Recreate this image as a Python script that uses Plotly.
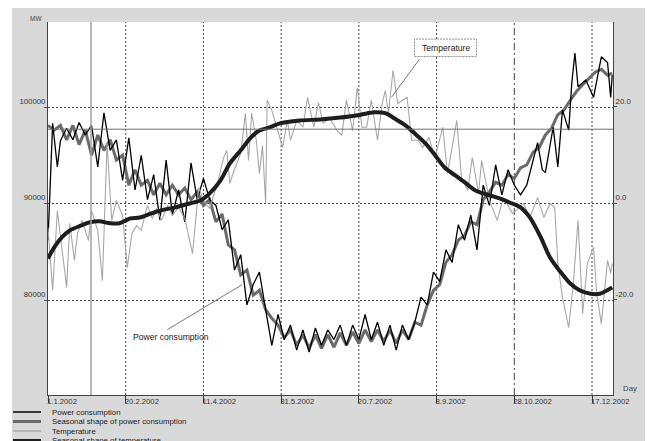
import pandas as pd
import plotly.graph_objects as go

START = pd.Timestamp("2002-01-01")

# ---- data ----
power_days = [0, 3, 6, 8, 12, 16, 20, 24, 28, 32, 36, 40, 44, 48, 52, 56, 60, 64, 68, 72,
              76, 80, 84, 88, 92, 96, 100, 104, 108, 112, 116, 120, 124, 128, 132, 136, 140,
              144, 148, 152, 156, 160, 164, 168, 172, 176, 180, 184, 188, 192, 196, 200, 204,
              208, 212, 216, 220, 224, 228, 232, 236, 240, 244, 248, 252, 256, 260, 264, 268,
              272, 276, 280, 284, 288, 292, 296, 300, 304, 308, 315, 318, 320, 325, 328, 331,
              335, 337, 339, 341, 346, 351, 356, 360, 362, 363]
power_mw = [86200, 98300, 93800, 96500, 97800, 96600, 98400, 97100, 98100, 93800, 99400, 95500,
            96600, 92400, 96800, 91400, 95000, 90400, 93000, 88300, 94500, 88800, 91400, 88100,
            94200, 90400, 92600, 90400, 89800, 87300, 88300, 83100, 84700, 79500, 81600, 82900,
            79000, 75300, 78500, 75900, 77400, 74800, 76900, 74600, 77100, 75300, 76900, 75900,
            77400, 75300, 77400, 75900, 78500, 75900, 77700, 75300, 77400, 74800, 77400, 75900,
            77700, 80300, 79500, 82900, 81900, 85200, 83900, 87800, 86200, 88800, 85200, 91900,
            89800, 94000, 90900, 93500, 91900, 90900, 91900, 96300, 93500, 93200, 97900, 93800,
            99700, 97600, 102500, 105600, 102100, 102800, 101000, 105200, 104600, 101000, 103300]

season_power_days = list(range(0, 361, 4)) + [363]
season_power_mw = [98100, 97600, 98100, 96600, 98100, 96100, 97600, 95000, 97100, 95500, 96600,
                   94500, 95000, 91900, 93500, 91900, 92400, 90900, 92100, 90900, 91900, 90900,
                   91600, 90400, 91200, 89800, 90400, 88100, 88900, 85700, 85200, 82600, 83100,
                   80500, 81000, 79000, 78100, 77400, 76100, 76900, 75300, 76400, 75000, 76400,
                   75000, 76400, 75100, 76600, 75300, 76700, 75500, 76900, 75700, 76900, 75700,
                   76900, 75500, 76900, 75900, 77700, 77400, 79500, 81000, 81600, 83900, 84700,
                   86200, 86700, 88100, 87800, 90400, 91200, 92200, 91900, 93000, 92600, 93700,
                   94000, 95300, 95800, 97100, 97800, 99200, 99700, 100700, 101600, 102300,
                   103000, 103600, 103900, 103300, 103500]

temp_days = [0, 3, 6, 9, 12, 14, 17, 19, 22, 26, 28, 32, 35, 38, 41, 44, 48, 51, 54, 57, 60,
             64, 67, 70, 73, 77, 80, 84, 88, 93, 97, 100, 104, 109, 113, 115, 117, 119, 124,
             127, 129, 131, 134, 136, 138, 140, 141, 144, 147, 151, 154, 156, 160, 164, 167,
             171, 174, 177, 181, 186, 189, 192, 196, 199, 202, 205, 208, 212, 215, 217, 219,
             222, 225, 231, 234, 238, 241, 245, 249, 254, 257, 263, 266, 270, 273, 277, 279,
             284, 289, 293, 299, 306, 310, 315, 319, 323, 326, 328, 331, 335, 338, 341, 344,
             347, 351, 353, 356, 360, 362, 363]
temp_c = [-5.0, -18.0, -1.5, -9.1, -17.4, -4.1, -11.8, -6.2, -3.5, -7.7, -1.5, -5.6, -16.0,
          12.4, -3.5, 0.6, -2.5, -13.3, -6.2, -4.6, -5.6, -0.4, -3.1, -1.0, -3.5, -0.4, -2.5,
          -0.8, -3.1, -10.4, 3.3, 0.6, -1.0, 4.1, 9.5, 11.0, 4.1, 6.2, 10.4, 18.7, 8.9, 18.7,
          13.1, 6.2, 12.0, 0.0, 21.4, 19.3, 15.8, 11.6, 17.2, 13.1, 17.2, 15.8, 22.0, 15.8,
          20.9, 16.6, 17.8, 15.1, 14.1, 21.4, 15.1, 24.0, 15.8, 15.8, 21.4, 13.1, 20.7, 23.4,
          18.7, 27.6, 20.7, 22.0, 13.1, 13.1, 11.6, 13.7, 9.5, 15.8, 6.2, 17.2, 5.4, 2.7, 9.5,
          2.1, 8.9, 0.6, -3.5, 1.2, -2.1, 0.0, -2.9, 1.2, -2.9, 0.0, -0.8, -12.4, -19.5, -25.7,
          -16.6, -3.5, -22.8, -12.4, -9.1, -18.7, -24.9, -11.8, -14.5, -12.4]

season_temp_days = [0, 4, 9, 14, 21, 27, 33, 40, 46, 53, 59, 66, 72, 82, 91, 98, 104, 111, 117,
                    124, 130, 136, 143, 149, 162, 175, 188, 201, 210, 217, 223, 230, 236, 243,
                    249, 255, 262, 268, 275, 284, 291, 297, 304, 310, 317, 323, 329, 336, 342,
                    349, 355, 363]
season_temp_c = [-11.4, -9.1, -7.0, -5.6, -4.6, -3.9, -3.7, -4.1, -4.1, -3.1, -2.9, -2.1, -1.5,
                 -0.8, 0.0, 0.6, 2.1, 4.8, 8.3, 11.0, 13.5, 15.1, 15.8, 16.6, 17.2, 17.4, 17.8,
                 18.4, 18.9, 18.7, 17.6, 16.2, 14.5, 12.4, 10.0, 7.5, 5.8, 4.4, 2.7, 1.7, 1.0,
                 0.2, -0.8, -2.9, -7.0, -11.2, -13.9, -16.6, -18.0, -18.7, -18.7, -17.4]

tick_dates = ["2002-01-01", "2002-02-20", "2002-04-11", "2002-05-31", "2002-07-20",
              "2002-09-08", "2002-10-28", "2002-12-17"]
tick_labels = ["1.1.2002", "20.2.2002", "11.4.2002", "31.5.2002", "20.7.2002",
               "8.9.2002", "28.10.2002", "17.12.2002"]
marked_date = "2002-10-28"
mw_ticks = [80000, 90000, 100000]
mw_labels = ["80000", "90000", "100000"]
temp_ticks = [-20, 0, 20]
temp_labels = ["-20.0", "0.0", "20.0"]

cursor_date = "2002-01-28 16:00"
cursor_mw = 97700

legend_names = ["Power consumption", "Seasonal shape of power consumption",
                "Temperature", "Seasonal shape of temperature"]


def to_dates(days):
    return [START + pd.Timedelta(days=d) for d in days]


C_POWER = "#000000"
C_SPOWER = "#6a6a6a"
C_TEMP = "#a8a8a8"
C_STEMP = "#1e1e1e"
BG = "#d9d9d9"
FONT = "Liberation Sans"

fig = go.Figure()
fig.add_trace(go.Scatter(x=to_dates(temp_days), y=temp_c, yaxis="y2", mode="lines",
                         line=dict(color=C_TEMP, width=1.1), name=legend_names[2]))
fig.add_trace(go.Scatter(x=to_dates(season_temp_days), y=season_temp_c, yaxis="y2", mode="lines",
                         line=dict(color=C_STEMP, width=4, shape="spline", smoothing=0.8),
                         name=legend_names[3]))
fig.add_trace(go.Scatter(x=to_dates(season_power_days), y=season_power_mw, mode="lines",
                         line=dict(color=C_SPOWER, width=3), name=legend_names[1]))
fig.add_trace(go.Scatter(x=to_dates(power_days), y=power_mw, mode="lines",
                         line=dict(color=C_POWER, width=1.3), name=legend_names[0]))

OFF = 8  # page body margin
W, H = 653, 441
PL, PT, PR, PB = 48, 22, 613, 395  # plot area in page pixels
L, T = PL - OFF, PT - OFF
R, B = W - (PR - OFF), H - (PB - OFF)
PW, PH = PR - PL, PB - PT


def px(xp):
    return (xp - PL) / PW


def py(yp):
    return (PB - yp) / PH


shapes = []
# white strip on the left of the grey panel
shapes.append(dict(type="rect", xref="paper", yref="paper", x0=px(0), x1=px(12),
                   y0=py(H + 20), y1=py(-20), fillcolor="white", line=dict(width=0),
                   layer="below"))
# vertical grid lines
for d in tick_dates[1:]:
    dash = "7px,3px,2px,3px" if d == marked_date else "2px,2px"
    shapes.append(dict(type="line", xref="x", yref="paper", x0=d, x1=d, y0=0, y1=1,
                       line=dict(color="#444444", width=1, dash=dash), layer="below"))
# cursor lines
shapes.append(dict(type="line", xref="x", yref="paper", x0=cursor_date, x1=cursor_date,
                   y0=0, y1=1, line=dict(color="#a0a0a0", width=1.5)))
shapes.append(dict(type="line", xref="paper", yref="y", x0=0, x1=1, y0=cursor_mw, y1=cursor_mw,
                   line=dict(color="#707070", width=1)))
# Temperature label box
shapes.append(dict(type="rect", xref="paper", yref="paper", x0=px(414.5), x1=px(476.5),
                   y0=py(56.5), y1=py(39), fillcolor="white",
                   line=dict(color="#909090", width=1, dash="2px,1px")))

# legend (manual)
leg_styles = [(C_POWER, 1.5), (C_SPOWER, 3), (C_TEMP, 1.5), (C_STEMP, 3)]
leg_rows = [412, 421.5, 431, 440.5]
annotations = []
for (col, wdt), yr, name in zip(leg_styles, leg_rows, legend_names):
    shapes.append(dict(type="line", xref="paper", yref="paper", x0=px(13), x1=px(41),
                       y0=py(yr), y1=py(yr), line=dict(color=col, width=wdt)))
    annotations.append(dict(xref="paper", yref="paper", x=px(50), y=py(yr), text=name,
                            xanchor="left", yanchor="middle", showarrow=False,
                            font=dict(family=FONT, size=7.8, color="#1a1a1a")))

annotations += [
    dict(xref="paper", yref="paper", x=px(36), y=py(19), text="MW", showarrow=False,
         xanchor="center", yanchor="middle",
         font=dict(family=FONT, size=6.5, color="#444444")),
    dict(xref="paper", yref="paper", x=px(630), y=py(388), text="Day", showarrow=False,
         xanchor="center", yanchor="middle",
         font=dict(family=FONT, size=7.8, color="#444444")),
    dict(xref="paper", yref="paper", x=px(445.5), y=py(47.8), text="Temperature",
         xanchor="center", yanchor="middle",
         showarrow=False, font=dict(family=FONT, size=8.6, color="#222222")),
    dict(x="2002-08-10", y=22.0, xref="x", yref="y2", text="", showarrow=True, arrowhead=0,
         ax=29, ay=-39.5, arrowwidth=0.8, arrowcolor="#555555"),
    dict(xref="paper", yref="paper", x=px(170.5), y=py(336.5), text="Power consumption",
         xanchor="center", yanchor="middle",
         showarrow=False, font=dict(family=FONT, size=8.6, color="#222222")),
    dict(x="2002-05-06", y=81600, xref="x", yref="y", text="", showarrow=True, arrowhead=0,
         ax=-76.5, ay=46, arrowwidth=0.8, arrowcolor="#555555"),
]

fig.update_layout(
    width=W, height=H,
    margin=dict(l=L, r=R, t=T, b=B, pad=0, autoexpand=False),
    paper_bgcolor=BG, plot_bgcolor="white",
    showlegend=False,
    shapes=shapes, annotations=annotations,
    font=dict(family=FONT, size=7.8, color="#333333"),
    xaxis=dict(type="date", range=["2002-01-01", "2002-12-30 12:00"], tickvals=tick_dates,
               ticktext=tick_labels, ticks="outside", ticklen=7, tickcolor="#333333",
               ticklabelposition="outside right", ticklabelshift=-2, ticklabelstandoff=-1,
               showgrid=False, zeroline=False,
               showline=True, linecolor="#444444", linewidth=1, automargin=False,
               tickfont=dict(family=FONT, size=7.7, color="#333333")),
    yaxis=dict(range=[70155, 108808], tickvals=mw_ticks, ticktext=mw_labels, ticks="outside",
               ticklen=3, tickcolor="#555555", ticklabelposition="outside top",
               showgrid=True, gridcolor="#444444", griddash="2px,2px", gridwidth=1,
               zeroline=False, showline=True, linecolor="#444444", linewidth=1,
               automargin=False, tickfont=dict(family=FONT, size=7.8, color="#333333")),
    yaxis2=dict(range=[-39.69, 37.6], overlaying="y", side="right", tickvals=temp_ticks,
                ticktext=temp_labels, ticks="outside", ticklen=3, tickcolor="#555555",
                ticklabelposition="outside top", showgrid=False, zeroline=False,
                showline=True, linecolor="#444444", linewidth=1, automargin=False,
                tickfont=dict(family=FONT, size=7.8, color="#333333")),
)

fig.write_html("out.html")
